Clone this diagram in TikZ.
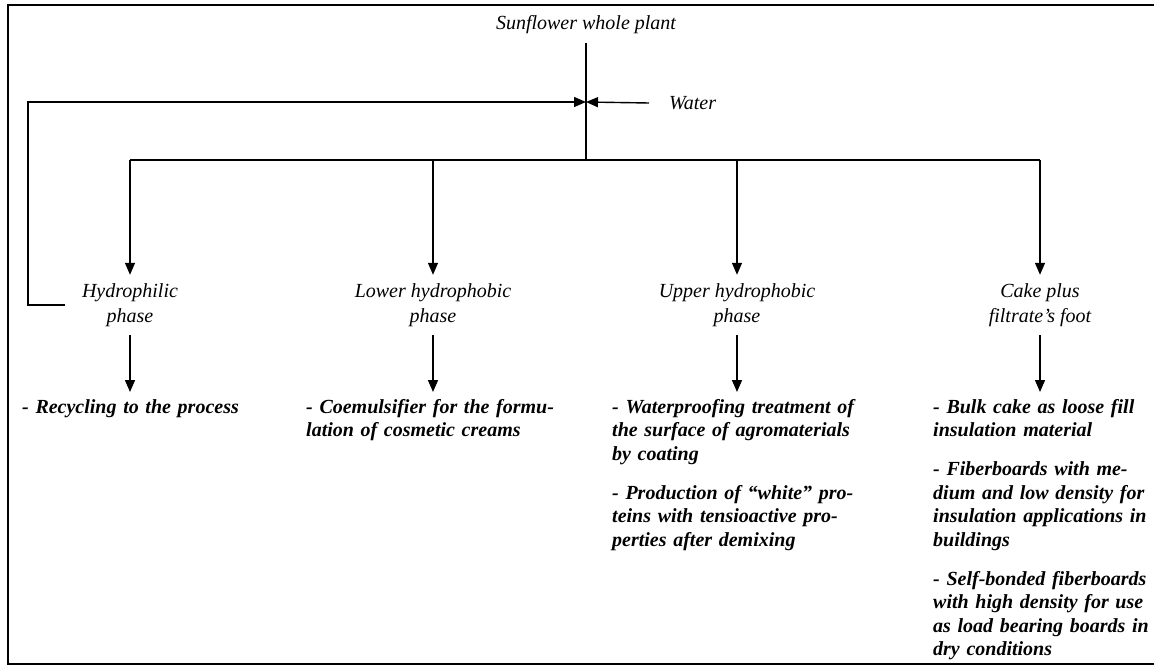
\documentclass[tikz,border=0pt]{standalone}
\usepackage{fontspec}
\setmainfont{Liberation Serif}
\usetikzlibrary{arrows.meta}
\begin{document}
\begin{tikzpicture}[x=1pt,y=-1pt,
  arr/.style={line width=1.4pt,-{Triangle[length=12pt,width=10pt]}},
  trunk/.style={line width=1.8pt},
  frame/.style={line width=2pt},
  lab/.style={font=\fontsize{20}{25}\selectfont\itshape,align=center,inner sep=0pt,minimum height=60pt},
  res/.style={font=\fontsize{20}{23.5}\selectfont\bfseries\itshape,align=left,anchor=north west,
    inner xsep=0pt,inner ysep=7pt,text width=250pt,
    execute at begin node={\hyphenpenalty=10000\exhyphenpenalty=10000}}
]
\useasboundingbox (0,0) rectangle (1154,666);
\draw[frame] (1154,5) -- (8,5) -- (8,664) -- (1154,664);

\node[font=\fontsize{20}{24}\selectfont\itshape,inner xsep=0pt,inner ysep=9pt] (top) at (586,25) {Sunflower whole plant};
\coordinate (m) at (586,102);
\coordinate (j) at (586,160);
\node[font=\fontsize{20}{24}\selectfont\itshape,anchor=west,inner sep=0pt,outer xsep=20pt] (water) at (649,103) {Water};

\node[lab] (ph1) at (130,305) {Hydrophilic\\phase};
\node[lab] (ph2) at (433,305) {Lower hydrophobic\\phase};
\node[lab] (ph3) at (737,305) {Upper hydrophobic\\phase};
\node[lab] (ph4) at (1040,305) {Cake plus\\filtrate’s foot};

\node[res] (r1) at (22,392) {- Recycling to the process};
\node[res] (r2) at (306,392) {- Coemulsifier for the formu-\\lation of cosmetic creams};
\node[res] (r3) at (612,392) {- Waterproofing treatment of\\the surface of agromaterials\\by coating\\[15.5pt]- Production of “white” pro-\\teins with tensioactive pro-\\perties after demixing};
\node[res] (r4) at (933,392) {- Bulk cake as loose fill\\insulation material\\[15.5pt]- Fiberboards with me-\\dium and low density for\\insulation applications in\\buildings\\[15.5pt]- Self-bonded fiberboards\\with high density for use\\as load bearing boards in\\dry conditions};

\draw[trunk] (top) -- (j);
\draw[trunk] (ph1 |- j) -- (ph4 |- j);
\foreach \k in {1,2,3,4}{
  \draw[arr] (ph\k |- j) -- (ph\k);
  \draw[arr] (ph\k.south) -- (ph\k.south |- r\k.north);
}
\draw[arr] (water.west) -- (m);
\coordinate (fb) at (65,305);
\draw[arr] (fb) -- ++(-37,0) |- (m);
\end{tikzpicture}
\end{document}
